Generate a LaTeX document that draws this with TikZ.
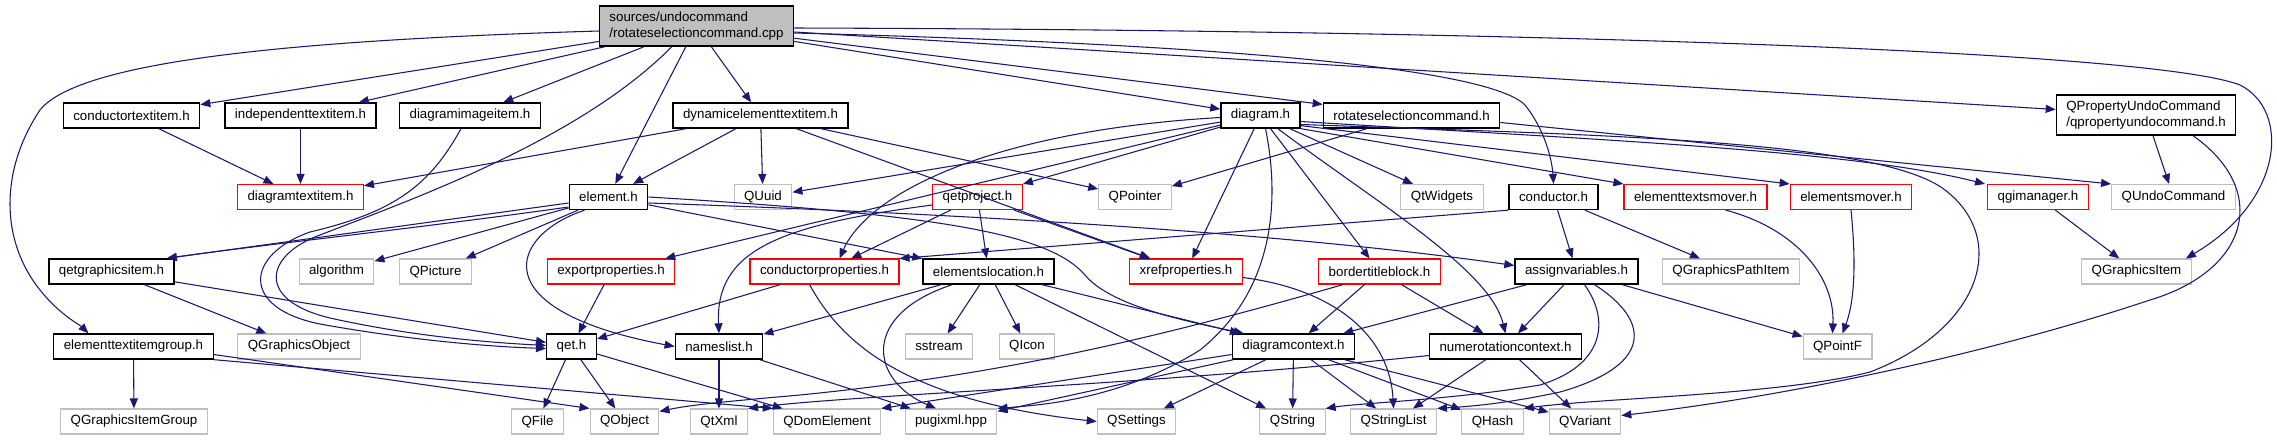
\documentclass[tikz,border=0pt]{standalone}
\usepackage{fontspec}
\setmainfont{Liberation Sans}
\usetikzlibrary{arrows.meta, calc}
\definecolor{edgeblue}{RGB}{25,25,112}
\definecolor{nodegray}{RGB}{191,191,191}
\tikzset{
  hbox/.style   = {draw=black, line width=1pt, fill=white, minimum height=18.75pt,
                   inner xsep=7.5pt, inner ysep=0pt, font=\fontsize{10}{12}\selectfont},
  rbox/.style   = {hbox, draw=red, line width=0.8pt},
  gbox/.style   = {hbox, draw=nodegray, line width=0.8pt},
  srcbox/.style = {hbox, fill=nodegray, minimum height=30pt, align=left},
  incl/.style   = {-{Triangle[length=7.5pt,width=6pt]}, edgeblue, line width=0.8pt},
}

\begin{document}
\begin{tikzpicture}[x=0.75pt, y=-0.75pt]
  \useasboundingbox (0,0) rectangle (2277,440);
  \fill[white] (0,0) rectangle (2277,440);

  % the file itself
  \node[srcbox] (root) at (696.5,26) {sources/undocommand\\/rotateselectioncommand.cpp};
  \node[hbox, align=left, minimum height=30pt] (qpuc) at (2146,115) {QPropertyUndoCommand\\/qpropertyundocommand.h};

  % documented headers
  \foreach \nm/\txt/\px/\py in {
    ctitem/conductortextitem.h/131.5/115.5, ititem/independenttextitem.h/300.5/115.5,
    diitem/diagramimageitem.h/470/115.5, deti/dynamicelementtextitem.h/760.5/115.5,
    diagram/diagram.h/1260.5/115.5, rscmd/rotateselectioncommand.h/1411.5/115.5,
    element/element.h/608.5/197, conductor/conductor.h/1553.5/197,
    qgitem/qetgraphicsitem.h/111.5/271.5, elemloc/elementslocation.h/988.5/271.5,
    assignvar/assignvariables.h/1576.5/271.5, etigroup/elementtextitemgroup.h/133.5/346.5,
    qet/qet.h/571.5/346.5, nameslist/nameslist.h/719/346.5,
    dcontext/diagramcontext.h/1293.5/346.5, numctx/numerotationcontext.h/1505.5/346.5}
    \node[hbox] (\nm) at (\px,\py) {\txt};

  % truncated headers
  \foreach \nm/\txt/\px/\py in {
    dtitem/diagramtextitem.h/300.5/197, qetproject/qetproject.h/977.5/197,
    etmover/elementtextsmover.h/1695.5/197, emover/elementsmover.h/1851/197,
    qgimanager/qgimanager.h/2038/197, exportprop/exportproperties.h/611/271.5,
    condprop/conductorproperties.h/824.5/271.5, xref/xrefproperties.h/1186/271.5,
    btb/bordertitleblock.h/1379.5/271.5}
    \node[rbox] (\nm) at (\px,\py) {\txt};

  % system / Qt headers
  \foreach \nm/\txt/\px/\py in {
    quuid/QUuid/763/197, qpointer/QPointer/1135/197, qtwidgets/QtWidgets/1442/197,
    qundo/QUndoCommand/2173.5/197, algorithm/algorithm/336.5/271.5,
    qpicture/QPicture/435.5/271.5, qgpathitem/QGraphicsPathItem/1731/271.5,
    qgraphicsitem/QGraphicsItem/2136.5/271.5, qgobject/QGraphicsObject/299/346.5,
    sstream/sstream/939/346.5, qicon/QIcon/1027/346.5, qpointf/QPointF/1837.5/346.5,
    qgigroup/QGraphicsItemGroup/134/421.5, qfile/QFile/537.5/421.5,
    qobject/QObject/624.5/421.5, qtxml/QtXml/719/421.5, qdom/QDomElement/827/421.5,
    pugixml/pugixml.hpp/951/421.5, qsettings/QSettings/1136.5/421.5,
    qstring/QString/1292.5/421.5, qstringlist/QStringList/1393.5/421.5,
    qhash/QHash/1492.5/421.5, qvariant/QVariant/1585/421.5}
    \node[gbox] (\nm) at (\px,\py) {\txt};

  % straight includes
  \foreach \a/\b in {root/ctitem, root/ititem, root/diitem, root/element, root/deti,
    root/diagram, root/rscmd, root/qpuc, ctitem/dtitem, ititem/dtitem, deti/dtitem,
    deti/element, deti/quuid, deti/qpointer, deti/xref, diagram/quuid, diagram/qetproject,
    diagram/exportprop, diagram/xref, diagram/btb, diagram/qtwidgets, rscmd/qpointer,
    qpuc/qundo, element/algorithm, element/qpicture, element/elemloc, qetproject/condprop,
    qetproject/elemloc, qetproject/xref, conductor/assignvar, conductor/qgpathitem,
    qgimanager/qgraphicsitem, qgitem/qgobject, qgitem/qet, exportprop/qet, condprop/qet,
    elemloc/nameslist, elemloc/sstream, elemloc/qicon, elemloc/qstring, elemloc/dcontext,
    btb/dcontext, btb/numctx, assignvar/dcontext, assignvar/numctx, assignvar/qpointf,
    etigroup/qgigroup, qet/qfile, qet/qobject, qet/qdom, nameslist/qtxml,
    nameslist/pugixml, dcontext/qsettings, dcontext/qstring, dcontext/qstringlist,
    dcontext/qhash, dcontext/qvariant, dcontext/pugixml, numctx/qstringlist,
    numctx/qvariant}
    \draw[incl] (\a) -- (\b);

  \draw[incl] (conductor.south west) -- (condprop.north east);
  \draw[incl] (diagram.south east) -- (etmover.north west);
  \draw[incl] ($(diagram.south east)+(0,-3)$) -- (emover.north west);
  \draw[incl] ($(rscmd.east)+(0,7)$) -- (qundo.north west);
  \draw[incl] ($(dcontext.west)+(0,8)$) -- (qdom.north east);
  \draw[incl] ($(etigroup.east)+(0,8)$) -- (qobject.north west);
  \draw[incl] (etigroup.south east) -- (qdom.north west);
  \draw[incl] ($(element.west)+(0,6)$) -- ($(qgitem.north east)+(-8,0)$);
  \draw[incl] ($(element.west)+(0,10)$) .. controls (420,228) and (260,245) .. ($(qgitem.north east)+(-8,0)$);

  % long routed includes
  \draw[incl] ($(root.west)+(0,5)$) .. controls (300,40) and (80,60) .. (40,110)
    .. controls (0,170) and (0,240) .. (40,290)
    .. controls (60,315) and (80,325) .. ($(etigroup.north)+(-45,0)$);
  \draw[incl] ($(root.south west)+(73,0)$) .. controls (580,140) and (410,200) .. (320,235)
    .. controls (265,255) and (255,300) .. (330,318)
    .. controls (420,338) and (500,343) .. ($(qet.west)+(0,-1)$);
  \draw[incl] ($(diitem.south)+(-9,0)$) .. controls (430,185) and (395,212) .. (310,232)
    .. controls (245,255) and (240,308) .. (320,324)
    .. controls (420,342) and (500,347) .. ($(qet.west)+(0,2)$);
  \draw[incl] ($(root.east)+(0,7)$) .. controls (1250,45) and (1490,70) .. (1525,105)
    .. controls (1545,130) and (1552,160) .. (conductor.north);
  \draw[incl] ($(root.east)+(0,2)$) .. controls (1500,30) and (2150,50) .. (2240,85)
    .. controls (2290,110) and (2285,200) .. ($(qgraphicsitem.north east)+(-6,0)$);
  \draw[incl] (element.south west) ++(16,0) .. controls (510,235) and (480,310) .. (nameslist.west);
  \draw[incl] (element.east) .. controls (950,215) and (1050,235) .. (1085,275)
    .. controls (1110,305) and (1180,320) .. ($(dcontext.north west)+(12,0)$);
  \draw[incl] ($(element.east)+(0,6)$) .. controls (1000,215) and (1300,235) .. ($(assignvar.west)+(0,-6)$);
  \draw[incl] ($(diagram.west)+(0,2)$) .. controls (1000,130) and (870,190) .. ($(condprop.north)+(15,0)$);
  \draw[incl] ($(diagram.south)+(5,0)$) .. controls (1280,200) and (1275,290) .. (1200,350)
    .. controls (1120,400) and (1040,405) .. (pugixml.north east);
  \draw[incl] ($(diagram.south east)+(-23,0)$) .. controls (1380,205) and (1490,270) .. (numctx.north);
  \draw[incl] ($(diagram.east)+(0,6)$) .. controls (1600,140) and (1850,150) .. ($(qgimanager.north west)+(-2,0)$);
  \draw[incl] ($(diagram.east)+(0,9)$) .. controls (1600,135) and (1880,140) .. (1945,190)
    .. controls (2010,240) and (1980,330) .. (1870,372)
    .. controls (1780,395) and (1600,398) .. (qhash.north east);
  \draw[incl] ($(qpuc.south)+(47,0)$) .. controls (2270,190) and (2250,270) .. (2150,300)
    .. controls (2000,350) and (1800,395) .. ($(qvariant.east)+(0,-6)$);
  \draw[incl] ($(qetproject.west)+(0,8)$) .. controls (780,225) and (715,250) .. (nameslist.north);
  \draw[incl] ($(condprop.south)+(-15,0)$) .. controls (840,340) and (900,400) .. (qsettings.west);
  \draw[incl] ($(elemloc.south west)+(30,0)$) .. controls (860,315) and (870,380) .. ($(pugixml.north)+(-15,0)$);
  \draw[incl] ($(xref.east)+(0,6)$) .. controls (1340,290) and (1390,340) .. (qstringlist.north);
  \draw[incl] ($(btb.south west)+(25,0)$) .. controls (1150,340) and (1000,375) .. (800,395)
    .. controls (720,402) and (690,405) .. ($(qobject.north east)+(0,3)$);
  \draw[incl] ($(assignvar.south)+(8,0)$) .. controls (1610,320) and (1605,365) .. (1540,385)
    .. controls (1450,400) and (1360,403) .. (qstring.north east);
  \draw[incl] ($(assignvar.south)+(18,0)$) .. controls (1650,320) and (1655,365) .. (1560,392)
    .. controls (1500,405) and (1460,407) .. (qstringlist.north east);
  \draw[incl] ($(numctx.west)+(0,9)$) .. controls (1150,385) and (850,395) .. (qtxml.north east);
  \draw[incl] ($(etmover.south)+(30,0)$) .. controls (1800,230) and (1835,280) .. ($(qpointf.north)+(-5,0)$);
  \draw[incl] (emover.south) .. controls (1856,260) and (1855,300) .. ($(qpointf.north)+(5,0)$);
\end{tikzpicture}
\end{document}
